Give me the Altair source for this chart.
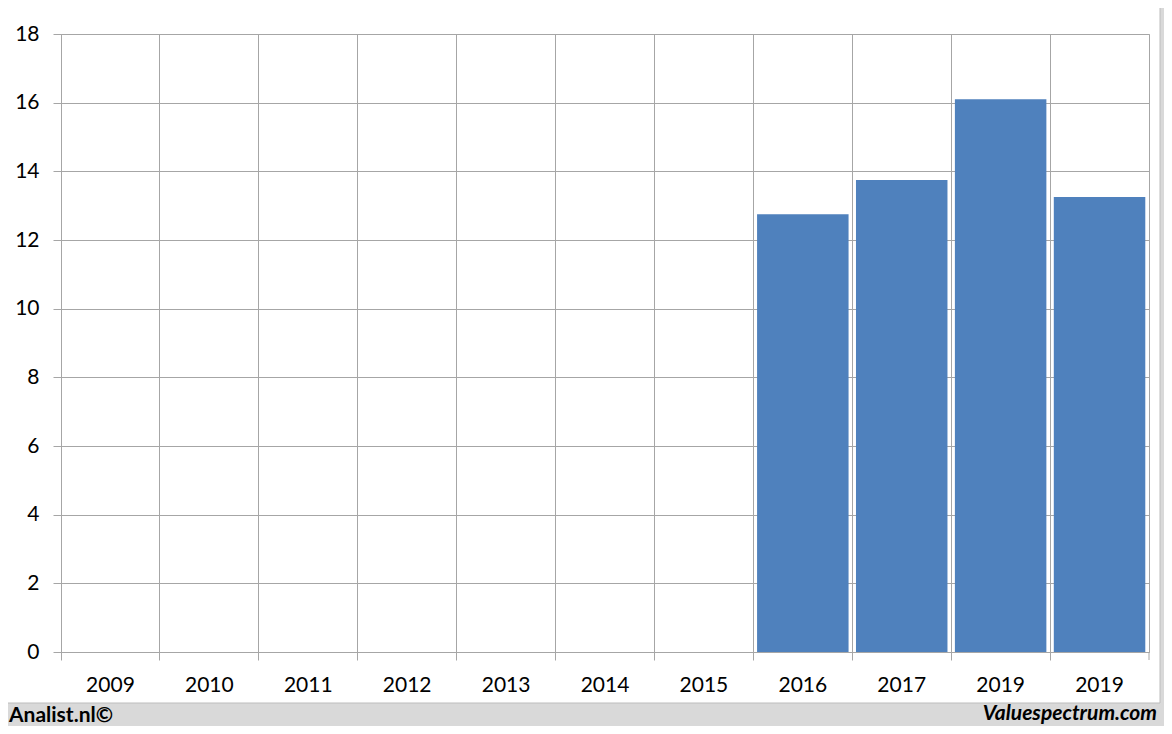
import altair as alt
import pandas as pd

years = ["2009", "2010", "2011", "2012", "2013", "2014", "2015", "2016", "2017", "2019", "2019"]
values = [None, None, None, None, None, None, None, 12.75, 13.75, 16.1, 13.25]
y_ticks = [0, 2, 4, 6, 8, 10, 12, 14, 16, 18]

idx = list(range(len(years)))
df = pd.DataFrame({"i": idx, "year": years, "value": values}).dropna()

W, H = 1088, 618
FONT = "Lato"
GRID = "#a6a6a6"
BG = "#d9d9d9"

label_expr = "[" + ",".join("'%s'" % y for y in years) + "][datum.value]"

x_enc = alt.X(
    "i:O",
    scale=alt.Scale(domain=idx, paddingInner=0, paddingOuter=0),
    axis=alt.Axis(
        title=None, labelExpr=label_expr, bandPosition=0, grid=True, gridColor=GRID,
        tickColor=GRID, tickSize=8, domainColor=GRID, labelAngle=0,
        labelFont=FONT, labelFontSize=21, labelColor="#000000", labelPadding=14,
    ),
)
y_enc = alt.Y(
    "value:Q",
    scale=alt.Scale(domain=[0, 18], nice=False),
    axis=alt.Axis(
        title=None, values=y_ticks, grid=True, gridColor=GRID, tickColor=GRID,
        tickSize=8, domain=False, labelFont=FONT, labelFontSize=21,
        labelColor="#000000", labelPadding=14,
    ),
)

one = pd.DataFrame({"k": [0]})

bottom_strip = alt.Chart(one).mark_rect(fill=BG, clip=False).encode(
    x=alt.value(-53), x2=alt.value(1103), y=alt.value(669), y2=alt.value(692)
)
right_strip = alt.Chart(one).mark_rect(fill=BG, clip=False).encode(
    x=alt.value(1099), x2=alt.value(1103), y=alt.value(-26), y2=alt.value(692)
)
panel_border = alt.Chart(one).mark_rect(fill=None, stroke="#bdbdbd", strokeWidth=1, clip=False).encode(
    x=alt.value(-53.5), x2=alt.value(1099), y=alt.value(-26.5), y2=alt.value(669)
)

bars = alt.Chart(df).mark_bar(color="#4f81bd", width=alt.RelativeBandSize(0.925)).encode(
    x=x_enc, y=y_enc
)

end_tick = alt.Chart(one).mark_rule(color=GRID, strokeWidth=1).encode(
    x=alt.value(W), y=alt.value(H), y2=alt.value(H + 8)
)

left_txt = alt.Chart(one).mark_text(
    text="Analist.nl©", font=FONT, fontSize=21, fontWeight="bold", align="left",
    baseline="alphabetic", color="#000000", clip=False,
).encode(x=alt.value(-52), y=alt.value(688))

right_txt = alt.Chart(one).mark_text(
    text="Valuespectrum.com", font=FONT, fontSize=21, fontWeight="bold", fontStyle="italic",
    align="right", baseline="alphabetic", color="#000000", clip=False,
).encode(x=alt.value(1096), y=alt.value(686))

chart = alt.layer(bottom_strip, right_strip, panel_border, bars, end_tick, left_txt, right_txt).properties(
    width=W, height=H,
    autosize=alt.AutoSizeParams(type="none"),
    padding={"left": 53, "top": 26, "right": 15, "bottom": 74},
    background="#ffffff",
).configure_view(stroke=GRID, strokeWidth=1)

chart.save("out.html", embed_options={"renderer": "svg", "actions": False})
